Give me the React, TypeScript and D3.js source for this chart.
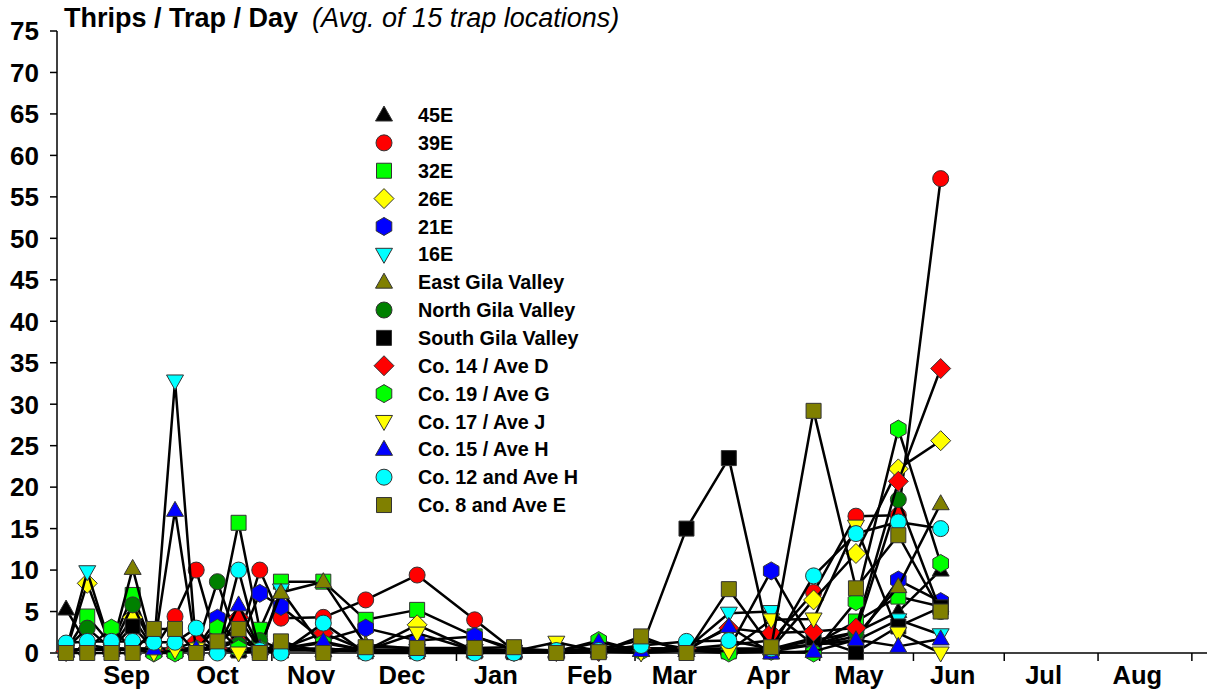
import * as d3 from 'd3';

// collection dates (season 2005-06)
const sampleDates = [
  '2005-08-25', '2005-09-01', '2005-09-09', '2005-09-16', '2005-09-23', '2005-09-30',
  '2005-10-07', '2005-10-14', '2005-10-21', '2005-10-28', '2005-11-04', '2005-11-18',
  '2005-12-02', '2005-12-19', '2006-01-07', '2006-01-20', '2006-02-03', '2006-02-17',
  '2006-03-03', '2006-03-18', '2006-04-01', '2006-04-15', '2006-04-29', '2006-05-13',
  '2006-05-27', '2006-06-10',
];

const monthLabels = ['Sep', 'Oct', 'Nov', 'Dec', 'Jan', 'Feb', 'Mar', 'Apr', 'May', 'Jun', 'Jul', 'Aug'];
const yTicks = [0, 5, 10, 15, 20, 25, 30, 35, 40, 45, 50, 55, 60, 65, 70, 75];

const s45E = [5.3, 1.0, 0.5, 0.5, 0.3, 0.3, 0.5, 0.5, 0.3, 0.5, 0.5, 0.3, 0.3, 0.3, 0.2, 0.1, 0.1, 0.2, 0.3, 0.3, 0.5, 0.5, 1.0, 2.5, 5.0, 10.0];
const s39E = [0.2, 0.5, 0.3, 0.5, 0.5, 4.4, 10.0, 1.0, 1.5, 10.0, 4.2, 4.3, 6.4, 9.4, 4.0, 0.3, 0.2, 0.3, 0.5, 0.5, 1.0, 1.5, 7.3, 16.5, 16.6, 57.2];
const s32E = [0.3, 4.4, 1.0, 7.0, 0.5, 0.3, 0.5, 3.2, 15.7, 2.8, 8.6, 8.6, 4.0, 5.2, 2.0, 0.5, 0.3, 0.5, 0.5, 0.5, 0.2, 0.2, 1.0, 3.8, 6.8, 5.6];
const s26E = [0.2, 8.4, 0.5, 4.3, 0.5, 0.3, 0.5, 0.5, 0.5, 0.5, 0.5, 0.3, 0.3, 3.4, 0.3, 0.2, 0.2, 0.2, 0.3, 0.3, 0.3, 0.5, 6.4, 12.0, 22.2, 25.6];
const s21E = [0.2, 0.5, 0.5, 0.5, 0.3, 0.5, 0.5, 4.2, 1.0, 7.2, 5.6, 1.5, 3.0, 1.5, 2.0, 0.3, 0.2, 0.3, 0.5, 0.5, 0.5, 9.9, 1.0, 1.5, 8.8, 6.2];
const s16E = [0.3, 9.8, 0.5, 0.5, 0.5, 32.8, 0.5, 0.5, 0.5, 0.5, 7.6, 0.5, 0.3, 0.3, 0.3, 0.2, 0.2, 0.3, 0.3, 0.5, 4.8, 5.0, 1.0, 1.5, 4.0, 2.2];
const sEastGila = [0.3, 0.5, 0.5, 10.2, 0.5, 0.5, 0.5, 0.5, 1.5, 0.5, 7.3, 8.6, 1.0, 0.5, 0.5, 0.3, 0.3, 0.5, 1.5, 0.5, 0.5, 0.5, 1.0, 2.0, 8.0, 18.0];
const sNorthGila = [0.5, 3.0, 0.5, 5.8, 0.5, 0.5, 0.5, 8.6, 1.0, 1.5, 0.5, 0.5, 0.3, 0.3, 0.3, 0.2, 0.2, 0.5, 0.5, 0.5, 0.3, 0.5, 1.5, 2.5, 18.5, 5.0];
const sSouthGila = [0.3, 0.5, 0.5, 3.2, 0.5, 0.3, 0.3, 0.5, 0.3, 0.3, 0.3, 0.3, 0.2, 0.2, 0.2, 0.1, 0.1, 0.2, 0.5, 15.0, 23.5, 0.5, 1.8, 0.1, 3.2, 5.5];
const sCo14 = [0.2, 0.5, 0.3, 0.5, 0.3, 0.5, 1.4, 0.5, 4.3, 0.5, 0.5, 2.4, 0.3, 0.3, 0.3, 0.2, 0.2, 0.2, 0.5, 0.5, 3.0, 2.4, 2.6, 3.0, 20.7, 34.3];
const sCo19 = [0.3, 0.5, 3.0, 0.5, 0.0, 0.0, 0.5, 3.0, 0.5, 0.5, 0.5, 1.2, 0.3, 0.3, 0.5, 0.2, 0.2, 1.5, 0.2, 0.3, 0.0, 0.2, 0.0, 6.2, 27.0, 10.8];
const sCo17 = [0.2, 0.5, 0.3, 0.5, 0.0, 0.3, 0.5, 0.5, 0.0, 0.3, 0.5, 0.5, 0.3, 2.4, 0.3, 0.2, 1.3, 0.2, 0.0, 0.3, 0.2, 4.0, 4.1, 15.3, 2.4, 0.0];
const sCo15 = [0.2, 0.5, 0.3, 0.5, 0.5, 17.2, 0.5, 0.5, 5.8, 0.5, 0.5, 1.4, 0.3, 0.3, 0.3, 0.2, 0.2, 1.3, 0.3, 0.3, 3.2, 0.0, 0.2, 1.6, 0.8, 1.7];
const sCo12 = [1.2, 1.4, 1.4, 1.4, 1.3, 1.3, 3.0, 0.0, 10.0, 0.3, 0.0, 3.6, 0.0, 0.0, 0.0, 0.0, 0.3, 0.3, 0.9, 1.4, 1.5, 0.5, 9.3, 14.4, 15.8, 15.0];
const sCo8 = [0.0, 0.0, 0.0, 0.0, 2.9, 2.9, 0.0, 1.4, 2.9, 0.0, 1.4, 0.0, 0.7, 0.6, 0.6, 0.7, 0.0, 0.1, 2.0, 0.0, 7.7, 0.7, 29.2, 7.8, 14.2, 5.0];

const series = [
  { name: '45E', values: s45E, shape: 'triUp', fill: '#000000' },
  { name: '39E', values: s39E, shape: 'circle', fill: '#ff0000' },
  { name: '32E', values: s32E, shape: 'square', fill: '#00ff00' },
  { name: '26E', values: s26E, shape: 'diamond', fill: '#ffff00' },
  { name: '21E', values: s21E, shape: 'hexagon', fill: '#0000ff' },
  { name: '16E', values: s16E, shape: 'triDown', fill: '#00ffff' },
  { name: 'East Gila Valley', values: sEastGila, shape: 'triUp', fill: '#808000' },
  { name: 'North Gila Valley', values: sNorthGila, shape: 'circle', fill: '#008000' },
  { name: 'South Gila Valley', values: sSouthGila, shape: 'square', fill: '#000000' },
  { name: 'Co. 14 / Ave D', values: sCo14, shape: 'diamond', fill: '#ff0000' },
  { name: 'Co. 19 / Ave G', values: sCo19, shape: 'hexagon', fill: '#00ff00' },
  { name: 'Co. 17 / Ave J', values: sCo17, shape: 'triDown', fill: '#ffff00' },
  { name: 'Co. 15 / Ave H', values: sCo15, shape: 'triUp', fill: '#0000ff' },
  { name: 'Co. 12 and Ave H', values: sCo12, shape: 'circle', fill: '#00ffff' },
  { name: 'Co. 8 and Ave E', values: sCo8, shape: 'square', fill: '#808000' },
];

const W = 1211;
const H = 689;
const FONT = "'Liberation Sans', Arial, sans-serif";

function markerPath(shape: string) {
  switch (shape) {
    case 'triUp':
      return 'M0,-9L8.5,6L-8.5,6Z';
    case 'triDown':
      return 'M0,9L8.5,-6L-8.5,-6Z';
    case 'square':
      return 'M-7.5,-7.5H7.5V7.5H-7.5Z';
    case 'diamond':
      return 'M0,-10L10,0L0,10L-10,0Z';
    case 'hexagon': {
      const pts = d3.range(6).map(i => {
        const a = (Math.PI / 3) * i - Math.PI / 2;
        return [9 * Math.cos(a), 9 * Math.sin(a)];
      });
      return 'M' + pts.map(p => p.join(',')).join('L') + 'Z';
    }
    default:
      return d3.arc()({ innerRadius: 0, outerRadius: 8, startAngle: 0, endAngle: 2 * Math.PI } as any) as string;
  }
}

export default function App() {
  const parse = d3.timeParse('%Y-%m-%d');
  const dates = sampleDates.map(d => parse(d) as Date);

  const x = d3.scaleTime()
    .domain([new Date(2005, 7, 22), new Date(2006, 8, 6)])
    .range([57, 1207]);
  const y = d3.scaleLinear().domain([0, 75]).range([653, 31]);

  const monthTicks = d3.timeMonth.range(new Date(2005, 8, 1), new Date(2006, 8, 2));
  const labelDates = monthTicks.slice(0, 12).map(d => d3.timeDay.offset(d, 13));

  const line = d3.line<number>()
    .x((_, i) => x(dates[i]))
    .y(v => y(v));

  return (
    <svg width={W} height={H} style={{ position: 'absolute', left: 0, top: 0, background: '#fff' }}
      fontFamily={FONT}>
      {/* title */}
      <text x={64} y={27} fontSize={27} fontWeight="bold">
        Thrips / Trap / Day
        <tspan dx={14} fontStyle="italic" fontWeight="normal">(Avg. of 15 trap locations)</tspan>
      </text>

      {/* y axis */}
      <line x1={57} x2={57} y1={y(75)} y2={y(0)} stroke="#000" strokeWidth={1.5} />
      {yTicks.map(t => (
        <g key={t}>
          <line x1={50} x2={57} y1={y(t)} y2={y(t)} stroke="#000" strokeWidth={1.5} />
          <text x={39} y={y(t)} dy="0.36em" textAnchor="end" fontSize={26} fontWeight="bold">{t}</text>
        </g>
      ))}

      {/* x axis */}
      <line x1={57} x2={1207} y1={y(0)} y2={y(0)} stroke="#000" strokeWidth={1.5} />
      {monthTicks.map((d, i) => (
        <line key={i} x1={x(d)} x2={x(d)} y1={y(0)} y2={y(0) + 8} stroke="#000" strokeWidth={1.5} />
      ))}
      {labelDates.map((d, i) => (
        <text key={i} x={x(d)} y={684} textAnchor="middle" fontSize={25.5} fontWeight="bold">{monthLabels[i]}</text>
      ))}

      {/* series */}
      {series.map(s => (
        <g key={s.name}>
          <path d={line(s.values) as string} fill="none" stroke="#000" strokeWidth={2.5} strokeLinejoin="round" />
          {s.values.map((v, i) => (
            <path key={i} d={markerPath(s.shape)} transform={`translate(${x(dates[i])},${y(v)})`}
              fill={s.fill} stroke="#333" strokeWidth={1} />
          ))}
        </g>
      ))}

      {/* legend */}
      {series.map((s, i) => {
        const ly = 115 + i * 27.86;
        return (
          <g key={s.name} transform={`translate(0,${ly})`}>
            <path d={markerPath(s.shape)} transform="translate(384,0)" fill={s.fill} stroke="#333" strokeWidth={1} />
            <text x={418} dy="0.36em" fontSize={19.8} fontWeight="bold">{s.name}</text>
          </g>
        );
      })}
    </svg>
  );
}
